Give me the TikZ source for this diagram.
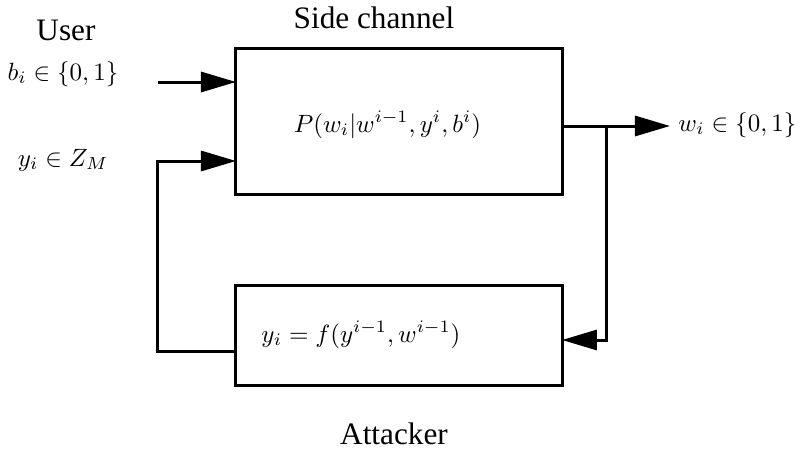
\documentclass[tikz,border=0pt]{standalone}
\usepackage{fontspec}
\setmainfont{Liberation Serif}
\usetikzlibrary{arrows.meta}
\begin{document}
\begin{tikzpicture}[x=0.4pt,y=-0.4pt,
  every path/.style={line width=1.2pt},
  blk/.style={draw,line width=1.2pt,rectangle,inner sep=0pt},
  arr/.style={-{Triangle[length=14pt,width=8pt]}},
  ttl/.style={anchor=base,inner sep=0pt,font=\fontsize{12.5}{14}\selectfont},
  lbl/.style={anchor=base,inner sep=0pt}]
\useasboundingbox (0,0) rectangle (803,454);
% boxes
\node[blk,minimum width=130.4pt,minimum height=58.4pt] (top) at (399,121) {};
\node[blk,minimum width=130.4pt,minimum height=40pt] (bot) at (399,335) {};
% texts
\node[lbl] (ptxt) at (387.5,132) {$P(w_i|w^{i-1},y^i,b^i)$};
\node[lbl,anchor=base west] (ftxt) at (260,342) {$y_i=f(y^{i-1},w^{i-1})$};
\node[ttl] (user) at (66,40) {User};
\node[ttl] (side) at (374,28) {Side channel};
\node[ttl] (att) at (394,444) {Attacker};
\node[lbl] (blbl) at (63,80) {$b_i\in\{0,1\}$};
\node[lbl] (ylbl) at (63,166) {$y_i\in Z_M$};
\node[lbl,anchor=base west] (wlbl) at (677,131) {$w_i\in\{0,1\}$};
% coordinates
\coordinate (bs) at (158,82);
\coordinate (bin) at (236,82);
\coordinate (yin) at (236,161);
\coordinate (fl) at (158,351);
\coordinate (fout) at (236,351);
\coordinate (wst) at (562,126);
\coordinate (jn) at (607,126);
\coordinate (wend) at (670,126);
\coordinate (fin) at (562,340);
% connectors
\draw[arr] (bs) -- (bin);
\draw[arr] (fout) -- (fl) |- (yin);
\draw[arr] (wst) -- (wend);
\draw[arr] (jn) |- (fin);
\end{tikzpicture}
\end{document}
